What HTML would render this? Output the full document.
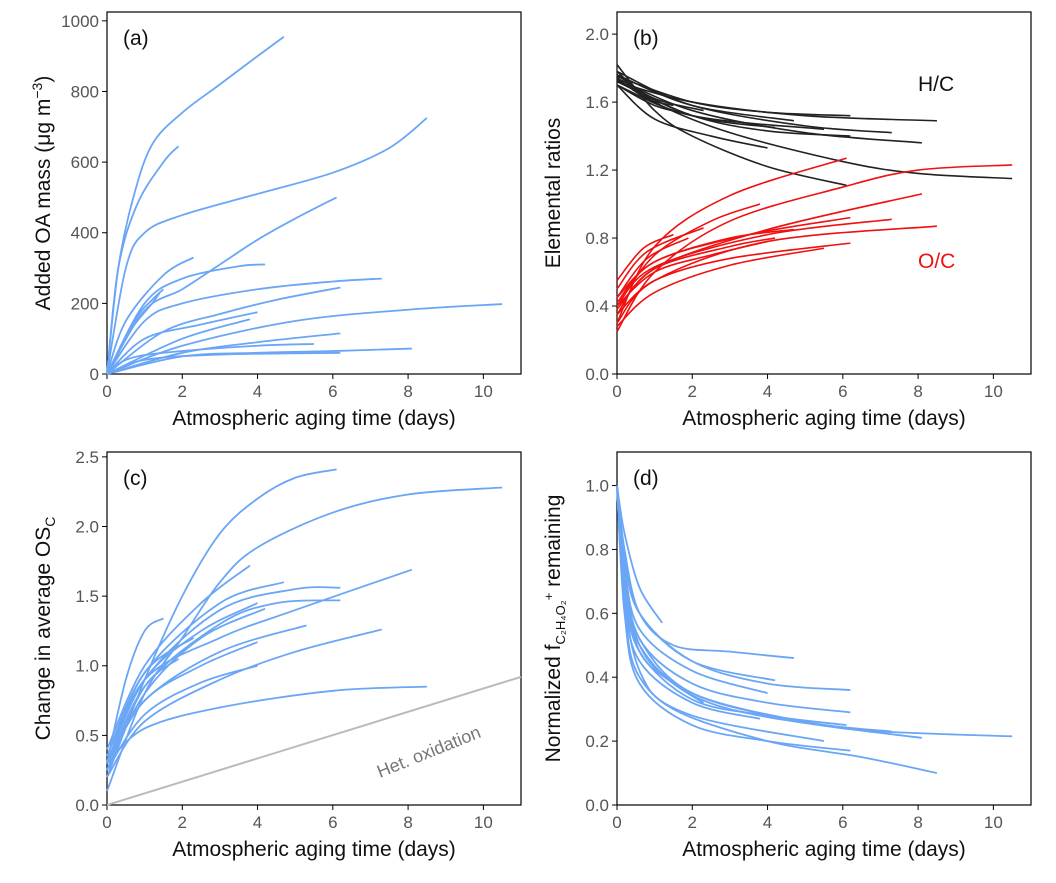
<!DOCTYPE html>
<html><head><meta charset="utf-8">
<style>
html,body{margin:0;padding:0;background:#fff;}
svg{display:block;font-family:"Liberation Sans",sans-serif;}
.tick{font-size:17px;fill:#555;}
.ttl{font-size:21px;fill:#111;}
</style></head>
<body>
<svg id="chart" width="1056" height="883" viewBox="0 0 1056 883"></svg>
<script>
// ---- data ----
const xTicks = [0,2,4,6,8,10];
const aTicks = [0,200,400,600,800,1000];
const bTicks = [0.0,0.4,0.8,1.2,1.6,2.0];
const cTicks = [0.0,0.5,1.0,1.5,2.0,2.5];
const dTicks = [0.0,0.2,0.4,0.6,0.8,1.0];

const seriesA = [
 [[0,0],[0.3,300],[0.7,500],[1.2,650],[2,740],[3,820],[4,900],[4.7,955]],
 [[0,0],[0.3,300],[0.8,480],[1.5,600],[1.9,645]],
 [[0,0],[0.5,300],[1,400],[2,450],[4,510],[6,570],[7.5,640],[8.5,725]],
 [[0,0],[1,180],[2,240],[3,310],[4,380],[5,440],[6.1,500]],
 [[0,0],[0.5,150],[1.5,280],[2.3,330]],
 [[0,0],[1,200],[2,270],[3.5,305],[4.2,310]],
 [[0,0],[1,150],[2,200],[4,240],[6,262],[7.3,270]],
 [[0,0],[1.5,120],[3,170],[4.5,210],[6.2,245]],
 [[0,0],[1,100],[2.5,140],[4,175]],
 [[0,0],[2,80],[5,150],[8,182],[10.5,198]],
 [[0,0],[2,50],[4,60],[6,65],[8.1,72]],
 [[0,0],[2,60],[4,90],[6.2,115]],
 [[0,0],[1,40],[3,55],[6.2,60]],
 [[0,0],[0.8,160],[1.2,210],[1.5,240]],
 [[0,0],[0.5,40],[1.5,60],[4,80],[5.5,85]],
 [[0,0],[0.6,120],[1.2,200],[1.4,230]],
 [[0,0],[2,100],[3.8,155]]
];
const seriesHC = [
 [[0,1.82],[1,1.55],[2,1.40],[4,1.22],[6.1,1.11]],
 [[0,1.78],[1,1.6],[3,1.42],[6,1.25],[8,1.18],[10.5,1.15]],
 [[0,1.72],[2,1.6],[5,1.52],[8.5,1.49]],
 [[0,1.75],[2,1.6],[4,1.54],[6.2,1.52]],
 [[0,1.78],[2,1.58],[5,1.46],[7.3,1.42]],
 [[0,1.74],[2,1.55],[5,1.42],[8.1,1.36]],
 [[0,1.7],[1,1.5],[2.5,1.4],[4,1.33]],
 [[0,1.72],[2,1.52],[4,1.43],[6.2,1.40]],
 [[0,1.76],[2,1.58],[4.7,1.49]],
 [[0,1.73],[2,1.52],[4.2,1.45]],
 [[0,1.76],[1,1.62],[2.3,1.55]],
 [[0,1.7],[1,1.58],[1.9,1.53]],
 [[0,1.7],[2,1.52],[5.5,1.44]],
 [[0,1.74],[0.8,1.62],[1.5,1.58]]
];
const seriesOC = [
 [[0,0.25],[1,0.6],[3,0.9],[6,1.1],[8,1.2],[10.5,1.23]],
 [[0,0.3],[1,0.75],[3,1.05],[6.1,1.27]],
 [[0,0.35],[1,0.62],[4,0.85],[8.1,1.06]],
 [[0,0.3],[1,0.55],[4,0.78],[8.5,0.87]],
 [[0,0.4],[1,0.63],[4,0.82],[7.3,0.91]],
 [[0,0.42],[1,0.66],[3.5,0.82],[6.2,0.92]],
 [[0,0.35],[1,0.55],[3,0.68],[6.2,0.77]],
 [[0,0.28],[1,0.48],[3,0.64],[5.5,0.74]],
 [[0,0.4],[1,0.6],[2.5,0.7],[4,0.78]],
 [[0,0.45],[1,0.66],[3,0.8],[4.7,0.85]],
 [[0,0.38],[1,0.62],[3,0.75],[4.2,0.80]],
 [[0,0.5],[0.8,0.72],[2.3,0.86]],
 [[0,0.45],[0.8,0.68],[1.9,0.8]],
 [[0,0.55],[0.7,0.74],[1.5,0.82]],
 [[0,0.4],[1,0.7],[2.5,0.9],[3.8,1.0]]
];
const seriesC = [
 [[0,0.2],[1,0.9],[2,1.5],[3,1.95],[4,2.2],[5,2.35],[6.1,2.41]],
 [[0,0.1],[1,0.8],[2,1.2],[3,1.6],[4,1.85],[6,2.1],[8,2.23],[10.5,2.28]],
 [[0,0.3],[0.5,0.9],[1,1.25],[1.5,1.34]],
 [[0,0.3],[1,0.9],[3,1.2],[5,1.4],[8.1,1.69]],
 [[0,0.25],[1,0.85],[3,1.3],[4.5,1.45],[6.2,1.47]],
 [[0,0.3],[1,0.9],[3,1.4],[5,1.55],[6.2,1.56]],
 [[0,0.35],[1,0.95],[3,1.45],[4.7,1.60]],
 [[0,0.2],[1,0.6],[3,0.9],[5,1.1],[7.3,1.26]],
 [[0,0.3],[1,0.55],[3,0.7],[6,0.82],[8.5,0.85]],
 [[0,0.3],[1,0.75],[3,1.1],[5.3,1.29]],
 [[0,0.3],[1,0.9],[2.5,1.25],[4,1.45]],
 [[0,0.25],[1,0.8],[2.5,1.2],[4.2,1.41]],
 [[0,0.3],[1,0.75],[2.5,1.0],[4,1.17]],
 [[0,0.25],[1,0.65],[2.5,0.88],[4,1.0]],
 [[0,0.4],[1,1.0],[2.5,1.45],[3.8,1.72]],
 [[0,0.35],[1,0.95],[2.3,1.2]],
 [[0,0.3],[1,0.85],[1.9,1.05]]
];
const hetLine = [[0,0],[11,0.92]];
const seriesD = [
 [[0,1],[0.2,0.72],[0.6,0.5],[1.5,0.38],[3,0.3],[6,0.24],[8,0.225],[10.5,0.215]],
 [[0,1],[0.2,0.65],[0.6,0.42],[1.5,0.3],[4,0.2],[6.5,0.15],[8.5,0.10]],
 [[0,1],[0.2,0.72],[0.6,0.52],[2,0.35],[5,0.26],[8.1,0.21]],
 [[0,1],[0.2,0.78],[0.6,0.6],[2,0.45],[4,0.38],[6.2,0.36]],
 [[0,1],[0.2,0.6],[0.6,0.38],[2,0.25],[4,0.2],[6.2,0.17]],
 [[0,1],[0.2,0.8],[0.6,0.6],[1.5,0.5],[3,0.48],[4.7,0.46]],
 [[0,1],[0.2,0.85],[0.6,0.68],[1.2,0.57]],
 [[0,1],[0.2,0.7],[0.6,0.5],[2,0.35],[5,0.26],[7.3,0.23]],
 [[0,1],[0.2,0.75],[0.6,0.52],[2,0.38],[4,0.32],[6.2,0.29]],
 [[0,1],[0.2,0.68],[0.6,0.48],[2,0.33],[4,0.28],[6.1,0.25]],
 [[0,1],[0.2,0.75],[0.6,0.55],[2,0.42],[4,0.35]],
 [[0,1],[0.2,0.78],[0.6,0.6],[2,0.45],[4.2,0.39]],
 [[0,1],[0.2,0.62],[0.6,0.4],[2,0.28],[5.5,0.2]],
 [[0,1],[0.2,0.7],[0.6,0.48],[1.5,0.38],[2.3,0.32]],
 [[0,1],[0.2,0.65],[0.6,0.45],[2,0.32],[3.8,0.27]]
];

// ---- layout ----
const NS="http://www.w3.org/2000/svg";
const svg=document.getElementById('chart');
function el(tag,attrs,parent){const e=document.createElementNS(NS,tag);for(const k in attrs)e.setAttribute(k,attrs[k]);(parent||svg).appendChild(e);return e;}

function makePanel(key,x0,y0,x1,y1,ymax,yTicks,fmt,label,ytitleFn){
  const g=el('g',{});
  
  
  const sx=t=>x0+(t/11)*(x1-x0);
  const sy=v=>y1-(v/ymax)*(y1-y0);
  const frame=el('rect',{x:x0,y:y0,width:x1-x0,height:y1-y0,fill:'none',stroke:'#000','stroke-width':1.2},g);
  
  
  xTicks.forEach(t=>{
    el('line',{x1:sx(t),x2:sx(t),y1:y1,y2:y1+5,stroke:'#000'},g);
    const tx=el('text',{x:sx(t),y:y1+23,'text-anchor':'middle',class:'tick'},g);
    tx.textContent=t;
    
    
  });
  yTicks.forEach(v=>{
    el('line',{x1:x0-5,x2:x0,y1:sy(v),y2:sy(v),stroke:'#000'},g);
    const tx=el('text',{x:x0-8,y:sy(v)+6,'text-anchor':'end',class:'tick'},g);
    tx.textContent=fmt(v);
    
    
  });
  const xt=el('text',{x:(x0+x1)/2,y:y1+51,'text-anchor':'middle',class:'ttl'},g);
  xt.textContent='Atmospheric aging time (days)';
  
  
  const yt=el('text',{transform:`translate(${x0-57},${(y0+y1)/2}) rotate(-90)`,'text-anchor':'middle',class:'ttl'},g);
  ytitleFn(yt);
  
  
  const pl=el('text',{x:x0+16,y:y0+33,class:'ttl'},g);
  pl.textContent=label;
  
  
  return {g,sx,sy};
}
function path(P,pts,color,w,name){
  const p=pts.map(d=>[P.sx(d[0]),P.sy(d[1])]);
  let d=`M${p[0][0]},${p[0][1]}`;
  for(let i=0;i<p.length-1;i++){
    const a=p[i-1]||p[i],b=p[i],c=p[i+1],e=p[i+2]||c;
    const c1=[b[0]+(c[0]-a[0])/6,b[1]+(c[1]-a[1])/6];
    const c2=[c[0]-(e[0]-b[0])/6,c[1]-(e[1]-b[1])/6];
    d+=`C${c1[0]},${c1[1]} ${c2[0]},${c2[1]} ${c[0]},${c[1]}`;
  }
  const e=el('path',{d,fill:'none',stroke:color,'stroke-width':w||1.8},P.g);
  
  
}
const blue='#6aa6f5';
const f0=v=>String(v), f1=v=>v.toFixed(1);

const A=makePanel('a',107,12,521,374,1025,aTicks,f0,'(a)',t=>{t.innerHTML='Added OA mass (μg m<tspan dy="-8" font-size="14">−3</tspan><tspan dy="8">)</tspan>';});
seriesA.forEach(s=>path(A,s,blue,1.8,'oa-mass-curve'));

const B=makePanel('b',617,12,1031,374,2.13,bTicks,f1,'(b)',t=>{t.textContent='Elemental ratios';});
seriesHC.forEach(s=>path(B,s,'#222',1.6,'hc-ratio-curve'));
seriesOC.forEach(s=>path(B,s,'#f01010',1.6,'oc-ratio-curve'));
let l=el('text',{x:918,y:91,class:'ttl',fill:'#000'},B.g);l.textContent='H/C';

l=el('text',{x:918,y:268,class:'ttl',style:'fill:#f01010'},B.g);l.textContent='O/C';


const C=makePanel('c',107,452,521,805,2.535,cTicks,f1,'(c)',t=>{t.innerHTML='Change in average OS<tspan dy="5" font-size="14">C</tspan>';});
path(C,hetLine,'#bbb',2,'het-oxidation-line');
seriesC.forEach(s=>path(C,s,blue,1.8,'osc-curve'));
l=el('text',{x:0,y:0,transform:'translate(380,778) rotate(-22)',style:'font-size:18px;fill:#777'},C.g);l.textContent='Het. oxidation';


const D=makePanel('d',617,452,1031,805,1.105,dTicks,f1,'(d)',t=>{t.innerHTML='Normalized f<tspan dy="5" font-size="13">C₂H₄O₂</tspan><tspan dy="-12" font-size="13">+</tspan><tspan dy="7"> remaining</tspan>';});
seriesD.forEach(s=>path(D,s,blue,1.8,'fraction-remaining-curve'));
</script>
</body></html>
